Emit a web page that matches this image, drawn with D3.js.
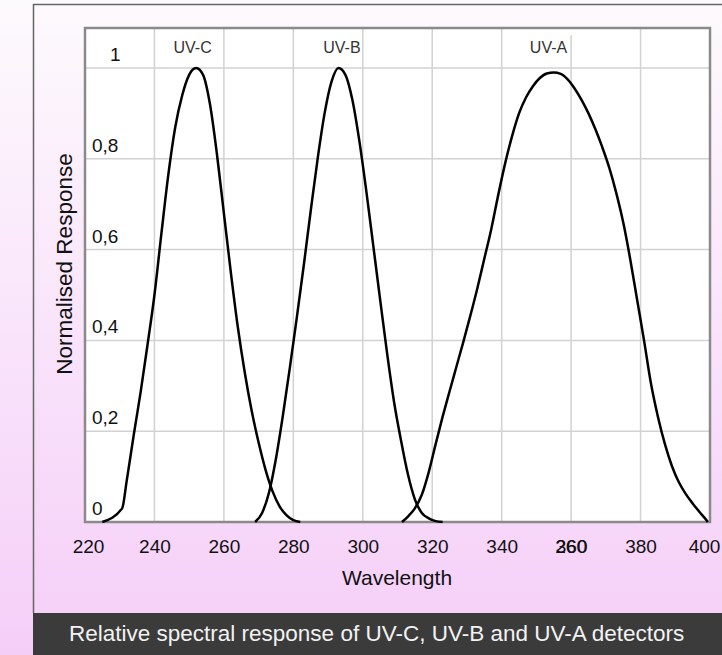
<!DOCTYPE html>
<html>
<head>
<meta charset="utf-8">
<script src="https://cdn.jsdelivr.net/npm/d3@7"></script>
<style>
  html, body { margin: 0; padding: 0; }
  body { width: 722px; height: 655px; overflow: hidden; }
  svg { display: block; font-family: "Liberation Sans", Arial, sans-serif; }
</style>
</head>
<body>
<script>
// ---- data ----
const xTicks = [220, 240, 260, 280, 300, 320, 340, 360, 380, 400];
const xTickLabels = ["220", "240", "260", "280", "300", "320", "340", "360", "380", "400"];
const yTicks = [0, 0.2, 0.4, 0.6, 0.8, 1];
const yTickLabels = ["0", "0,2", "0,4", "0,6", "0,8", "1"];
const seriesNames = ["UV-C", "UV-B", "UV-A"];
const labelWavelengths = [251, 294, 353.5];

const uvC = [
  [225, 0], [230.7, 0.03], [232, 0.09], [234, 0.19], [236, 0.285], [238, 0.39],
  [240, 0.5], [242, 0.635], [244, 0.765], [246, 0.87], [248, 0.94], [250, 0.985],
  [252, 1.0], [254, 0.985], [256, 0.92], [258, 0.81], [260, 0.68], [262, 0.55],
  [264, 0.43], [266, 0.33], [268, 0.245], [270, 0.175], [272, 0.115], [274, 0.068],
  [276, 0.035], [278, 0.015], [280, 0.004], [282, 0]
];
const uvB = [
  [269, 0], [271, 0.02], [273, 0.065], [275, 0.14], [277, 0.235], [279, 0.34],
  [281, 0.45], [283, 0.565], [285, 0.685], [287, 0.8], [289, 0.9], [291, 0.97],
  [293, 1.0], [295, 0.985], [297, 0.93], [299, 0.84], [301, 0.73], [303, 0.61],
  [305, 0.49], [307, 0.372], [309, 0.265], [311, 0.18], [313, 0.105], [315, 0.05],
  [317, 0.02], [319, 0.008], [321, 0.002], [323, 0]
];
const uvA = [
  [311.3, 0], [313, 0.012], [315, 0.03], [317, 0.06], [319, 0.11], [321, 0.172],
  [323, 0.232], [325, 0.288], [327, 0.343], [329, 0.398], [331, 0.455], [333, 0.515],
  [335, 0.58], [337, 0.645], [339, 0.72], [341, 0.79], [343, 0.85], [345, 0.9],
  [347, 0.935], [349, 0.96], [351, 0.978], [353, 0.988], [355, 0.99], [357, 0.987],
  [359, 0.975], [361, 0.955], [363, 0.93], [365, 0.9], [367, 0.865], [369, 0.825],
  [371, 0.78], [373, 0.725], [375, 0.66], [377, 0.58], [379, 0.49], [381, 0.4],
  [383, 0.305], [385, 0.232], [387, 0.172], [389, 0.124], [391, 0.088], [393, 0.062],
  [395, 0.041], [397, 0.022], [399, 0.004], [399.4, 0]
];
const series = [uvC, uvB, uvA];
const xTitle = "Wavelength";
const yTitle = "Normalised Response";
const caption = "Relative spectral response of UV-C, UV-B and UV-A detectors";

// ---- layout ----
const W = 722, H = 655;
const plot = { left: 85, right: 710, top: 28, bottom: 522 };

const svg = d3.select("body").append("svg").attr("width", W).attr("height", H);

const defs = svg.append("defs");
const grad = defs.append("linearGradient").attr("id", "bg").attr("x1", 0).attr("y1", 0).attr("x2", 0).attr("y2", 1);
grad.append("stop").attr("offset", "0%").attr("stop-color", "#fdfafd");
grad.append("stop").attr("offset", "100%").attr("stop-color", "#f5cef8");

svg.append("rect").attr("width", W).attr("height", H).attr("fill", "url(#bg)");

// outer frame
svg.append("path")
  .attr("d", `M${W + 5},4.5 H33.5 V613`)
  .attr("fill", "none").attr("stroke", "#666").attr("stroke-width", 1.5);

// bottom caption bar
svg.append("rect").attr("x", 33).attr("y", 613).attr("width", W - 33).attr("height", H - 613).attr("fill", "#3b3b3b");
svg.append("text").attr("x", 69).attr("y", 641)
  .attr("fill", "#f2f2f2").attr("font-size", 22.5).text(caption);

const x = d3.scaleLinear().domain([220, 400]).range([plot.left, plot.right]);
const y = d3.scaleLinear().domain([0, 1]).range([plot.bottom, 68]);

// plot background
svg.append("rect").attr("x", plot.left).attr("y", plot.top)
  .attr("width", plot.right - plot.left).attr("height", plot.bottom - plot.top).attr("fill", "#fff");

// grid
const grid = svg.append("g").attr("stroke", "#d2d2d2").attr("stroke-width", 1.5);
grid.selectAll("line.v").data(xTicks.slice(1, -1)).join("line")
  .attr("x1", d => x(d)).attr("x2", d => x(d))
  .attr("y1", d => d === 360 ? 35 : plot.top).attr("y2", plot.bottom);
grid.selectAll("line.h").data(yTicks.slice(1)).join("line")
  .attr("x1", plot.left).attr("x2", plot.right)
  .attr("y1", d => y(d)).attr("y2", d => y(d));

// plot border
svg.append("rect").attr("x", plot.left).attr("y", plot.top)
  .attr("width", plot.right - plot.left).attr("height", plot.bottom - plot.top)
  .attr("fill", "none").attr("stroke", "#8a8a8a").attr("stroke-width", 2.5);

// curves
const line = d3.line().x(d => x(d[0])).y(d => y(d[1])).curve(d3.curveMonotoneX);
svg.append("g").selectAll("path").data(series).join("path")
  .attr("d", line).attr("fill", "none").attr("stroke", "#000").attr("stroke-width", 2.5)
  .attr("stroke-linejoin", "round");

// series labels
svg.append("g").selectAll("text").data(seriesNames).join("text")
  .attr("x", (d, i) => x(labelWavelengths[i])).attr("y", 53)
  .attr("text-anchor", "middle").attr("font-size", 16).attr("fill", "#333").text(d => d);

// x tick labels
const xAxis = d3.axisBottom(x).tickValues(xTicks).tickSize(0).tickPadding(0)
  .tickFormat((d, i) => xTickLabels[i]);
const gx = svg.append("g").attr("transform", "translate(0,539)").call(xAxis);
gx.select(".domain").remove();
gx.selectAll("text").attr("font-size", 19).attr("fill", "#111").attr("dy", "0.71em")
  .attr("font-family", "Liberation Sans, Arial, sans-serif");
// keep first/last labels inside the frame as in the reference
gx.selectAll(".tick").filter(d => d === 220).select("text").attr("x", 3);
gx.selectAll(".tick").filter(d => d === 400).select("text").attr("x", -6);
// overlapping glyph seen under the 360 label
gx.append("text").attr("x", x(360)).attr("y", 0).attr("dy", "0.71em")
  .attr("text-anchor", "middle").attr("font-size", 19).attr("fill", "#111")
  .attr("font-family", "Liberation Sans, Arial, sans-serif").text("260");

// y tick labels (inside the plot, above gridlines)
svg.append("g").selectAll("text").data(yTicks).join("text")
  .attr("x", (d, i) => i === yTicks.length - 1 ? 110 : 92)
  .attr("y", d => y(d) - 7)
  .attr("font-size", 19).attr("fill", "#111").text((d, i) => yTickLabels[i]);

// axis titles
svg.append("text").attr("x", 397).attr("y", 585).attr("text-anchor", "middle")
  .attr("font-size", 21).attr("fill", "#111").text(xTitle);
svg.append("text").attr("transform", "translate(72,264) rotate(-90)")
  .attr("text-anchor", "middle").attr("font-size", 22.5).attr("fill", "#111").text(yTitle);
</script>
</body>
</html>
